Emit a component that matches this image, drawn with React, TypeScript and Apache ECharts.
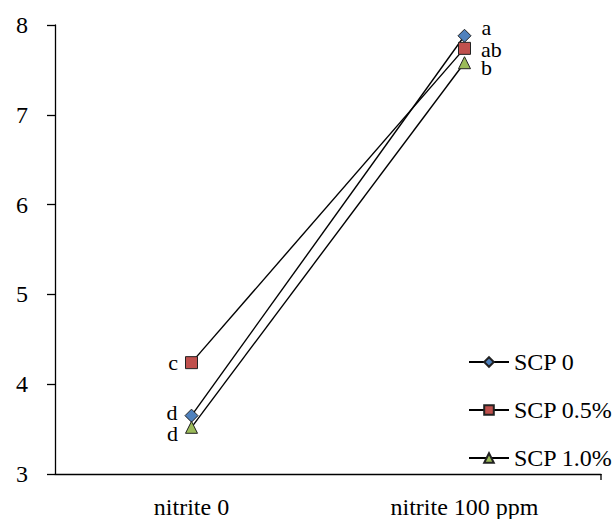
import React, { useEffect, useRef } from "react";
import * as echarts from "echarts";

const categories = ["nitrite 0", "nitrite 100 ppm"];
const seriesNames = ["SCP 0", "SCP 0.5%", "SCP 1.0%"];
const scp0 = [3.65, 7.88];
const scp05 = [4.24, 7.74];
const scp10 = [3.52, 7.58];
const labels0 = ["d", "a"];
const labels05 = ["c", "ab"];
const labels10 = ["d", "b"];
const yTicks = [3, 4, 5, 6, 7, 8];

const FONT = "Liberation Serif";
const FS = 24;

export default function App() {
  const ref = useRef<HTMLDivElement>(null);
  useEffect(() => {
    document.body.style.margin = "0";
    const chart = echarts.init(ref.current!, null, { renderer: "svg" });
    const mk = (
      name: string,
      data: number[],
      labs: string[],
      symbol: string,
      color: string,
      size: number,
      offs: number[][]
    ) => ({
      name,
      type: "line",
      data: data.map((v, i) => ({
        value: v,
        label: {
          show: true,
          formatter: labs[i],
          position: i === 0 ? "left" : "right",
          distance: i === 0 ? 7 : 10,
          offset: offs[i],
        },
      })),
      symbol,
      symbolSize: size,
      showAllSymbol: true,
      lineStyle: { color: "#000", width: 1.4 },
      itemStyle: { color, borderColor: "#222", borderWidth: 1 },
      label: { fontFamily: FONT, fontSize: 22, color: "#000" },
      emphasis: { disabled: true },
    });
    chart.setOption({
      animation: false,
      textStyle: { fontFamily: FONT },
      grid: { left: 55, right: 12, top: 25, bottom: 45, containLabel: false },
      xAxis: {
        type: "category",
        data: categories,
        boundaryGap: true,
        axisLine: { lineStyle: { color: "#000", width: 1.3 } },
        axisTick: { alignWithLabel: true, length: 6, lineStyle: { color: "#000", width: 1.3 } },
        axisLabel: { fontFamily: FONT, fontSize: FS, color: "#000", margin: 21 },
      },
      yAxis: {
        type: "value",
        min: yTicks[0],
        max: yTicks[yTicks.length - 1],
        interval: 1,
        splitLine: { show: false },
        axisLine: { show: true, lineStyle: { color: "#000", width: 1.3 } },
        axisTick: { show: true, inside: false, length: 8, lineStyle: { color: "#000", width: 1.3 } },
        axisLabel: { fontFamily: FONT, fontSize: FS, color: "#000", margin: 27 },
      },
      legend: {
        orient: "vertical",
        left: 463,
        top: 345,
        itemGap: 24,
        itemWidth: 40,
        itemHeight: 12,
        data: seriesNames,
        textStyle: { fontFamily: FONT, fontSize: FS, color: "#000" },
      },
      graphic: [
        { type: "line", shape: { x1: 601, y1: 474, x2: 601, y2: 480 }, style: { stroke: "#000", lineWidth: 1.3 } },
      ],
      series: [
        mk(seriesNames[0], scp0, labels0, "diamond", "#4F81BD", 13, [[0, -3], [0, -8]]),
        mk(seriesNames[1], scp05, labels05, "rect", "#C0504D", 12, [[0, 0], [0, 1]]),
        mk(seriesNames[2], scp10, labels10, "triangle", "#9BBB59", 12, [[0, 6], [0, 5]]),
      ],
    });
    return () => chart.dispose();
  }, []);
  return <div ref={ref} style={{ width: 613, height: 519 }} />;
}
